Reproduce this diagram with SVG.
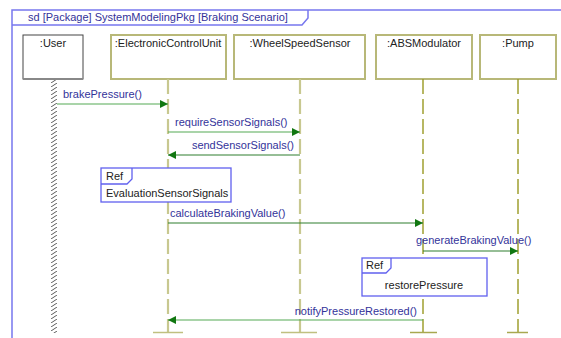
<svg xmlns="http://www.w3.org/2000/svg" width="561" height="338" viewBox="0 0 561 338">
  <style>
    text { font-family: "Liberation Sans", Arial, sans-serif; font-size: 11px; }
    .lbl { fill: #33339a; }
    .name { fill: #222222; }
    .frame { fill: none; stroke: #7777ee; stroke-width: 1.5; }
    .box { fill: #ffffff; stroke: #b8b878; stroke-width: 2; }
    .life-a { stroke: #c8c890; stroke-width: 2.2; stroke-dasharray: 15 5; fill: none; }
    .life-b { stroke: #999922; stroke-width: 1.4; stroke-dasharray: 15 5; fill: none; }
    .base-a { stroke: #c0c080; stroke-width: 1.5; }
    .base-b { stroke: #a8a850; stroke-width: 1.5; }
    .msg { stroke: #55aa55; stroke-width: 1.2; fill: none; }
    .msg-dark { stroke: #2f7f2f; stroke-width: 1.2; fill: none; }
    .ref { fill: #ffffff; stroke: #6060ee; stroke-width: 1.3; }
    .tab { fill: none; stroke: #6060ee; stroke-width: 1.3; }
  </style>
  <defs>
    <marker id="head" viewBox="0 0 10 10" refX="10" refY="5" markerWidth="8" markerHeight="8" markerUnits="userSpaceOnUse" orient="auto">
      <path d="M0,0 L10,5 L0,10 Z" fill="#117711"/>
    </marker>
    <!-- diagonal hatching for the actor lifeline -->
    <pattern id="hatch" x="50" y="79" width="9" height="4" patternUnits="userSpaceOnUse">
      <path d="M1,4 L7,0" stroke="#484848" stroke-width="0.9"/>
    </pattern>
  </defs>

  <rect width="561" height="338" fill="#ffffff"/>

  <!-- interaction frame -->
  <g id="frame">
    <path class="frame" d="M12,338 L12,10 L561,10"/>
    <path class="frame" d="M12,25 L302,25 L308,18 L308,10"/>
    <text x="28" y="21" class="lbl">sd [Package] SystemModelingPkg [Braking Scenario]</text>
  </g>

  <!-- lifelines -->
  <g id="user">
    <rect x="23" y="35" width="60" height="44" fill="#ffffff" stroke="#444444" stroke-width="1"/>
    <line x1="23" y1="79" x2="83" y2="79" stroke="#888888" stroke-width="2"/>
    <text x="53" y="47" text-anchor="middle" class="name">:User</text>
    <rect x="50" y="80" width="9" height="253" fill="url(#hatch)"/>
  </g>

  <g id="ecu">
    <rect class="box" x="111" y="35" width="115" height="44"/>
    <text x="168" y="47" text-anchor="middle" class="name">:ElectronicControlUnit</text>
    <line class="life-a" x1="168" y1="79" x2="168" y2="332"/>
    <line class="base-a" x1="153" y1="332.5" x2="183" y2="332.5"/>
  </g>

  <g id="wss">
    <rect class="box" x="234" y="35" width="131" height="44"/>
    <text x="300" y="47" text-anchor="middle" class="name">:WheelSpeedSensor</text>
    <line class="life-a" x1="300" y1="79" x2="300" y2="332"/>
    <line class="base-a" x1="281" y1="332.5" x2="317" y2="332.5"/>
  </g>

  <g id="abs">
    <rect class="box" x="376" y="35" width="96" height="44"/>
    <text x="424" y="47" text-anchor="middle" class="name">:ABSModulator</text>
    <line class="life-b" x1="423" y1="79" x2="423" y2="332"/>
    <line class="base-b" x1="410" y1="332.5" x2="437" y2="332.5"/>
  </g>

  <g id="pump">
    <rect class="box" x="480" y="35" width="76" height="44"/>
    <text x="518" y="47" text-anchor="middle" class="name">:Pump</text>
    <line class="life-b" x1="518" y1="79" x2="518" y2="332"/>
    <line class="base-b" x1="507" y1="332.5" x2="528" y2="332.5"/>
  </g>

  <!-- interaction references -->
  <g id="ref-evaluation">
    <rect class="ref" x="101" y="168" width="130" height="34"/>
    <path class="tab" d="M101,184 L127,184 L132,179 L132,168"/>
    <text x="106" y="180" class="name">Ref</text>
    <text x="106" y="197" class="name">EvaluationSensorSignals</text>
  </g>

  <g id="ref-restore">
    <rect class="ref" x="362" y="258" width="125" height="38"/>
    <path class="tab" d="M362,273 L386,273 L391,268 L391,258"/>
    <text x="366" y="269" class="name">Ref</text>
    <text x="424" y="289" text-anchor="middle" class="name">restorePressure</text>
  </g>

  <!-- messages -->
  <g id="connectors">
    <line class="msg" x1="57" y1="104" x2="168" y2="104" marker-end="url(#head)"/>
    <text x="63" y="98" class="lbl">brakePressure()</text>

    <line class="msg" x1="168" y1="132" x2="300" y2="132" marker-end="url(#head)"/>
    <text x="175" y="126" class="lbl">requireSensorSignals()</text>

    <line class="msg-dark" x1="300" y1="155" x2="168" y2="155" marker-end="url(#head)"/>
    <text x="294" y="149" text-anchor="end" class="lbl">sendSensorSignals()</text>

    <line class="msg-dark" x1="168" y1="223" x2="423" y2="223" marker-end="url(#head)"/>
    <text x="170" y="217" class="lbl">calculateBrakingValue()</text>

    <line class="msg-dark" x1="423" y1="251" x2="518" y2="251" marker-end="url(#head)"/>
    <text x="416" y="244" class="lbl">generateBrakingValue()</text>

    <line class="msg" x1="423" y1="320" x2="168" y2="320" marker-end="url(#head)"/>
    <text x="417" y="315" text-anchor="end" class="lbl">notifyPressureRestored()</text>
  </g>
</svg>
